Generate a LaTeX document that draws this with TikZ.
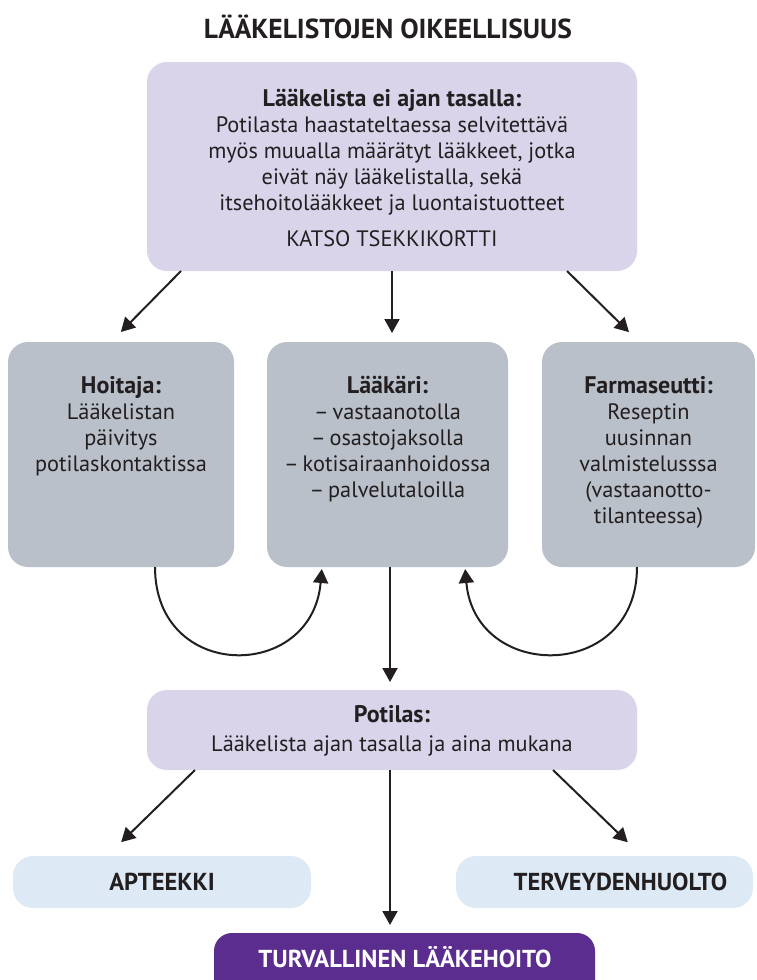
\documentclass[tikz,border=0pt]{standalone}
\usepackage{fontspec}
\setmainfont{PT Sans}
\usetikzlibrary{arrows.meta}
\definecolor{lav}{RGB}{217,212,233}
\definecolor{grayb}{RGB}{185,192,201}
\definecolor{lblue}{RGB}{221,234,246}
\definecolor{purp}{RGB}{91,45,142}
\definecolor{ink}{RGB}{35,31,32}
\newcommand\myhd{\fontsize{24}{26}\selectfont\bfseries}
\begin{document}
\begin{tikzpicture}[x=1pt,y=-1pt,
  box/.style={rectangle, rounded corners=20pt, inner sep=0pt, outer sep=0pt},
  txt/.style={align=center, inner sep=0pt, outer sep=0pt, text=ink, font=\fontsize{22.3}{26}\selectfont},
  lbl/.style={inner sep=0pt, outer sep=0pt, text=ink, font=\fontsize{24.5}{26}\selectfont\bfseries},
  arr/.style={draw=ink, line width=2pt, -{Triangle[length=14pt,width=15pt]}},
]
\useasboundingbox (0,0) rectangle (757,980);
\clip (0,0) rectangle (757,980);
% title
\node[txt, anchor=base, font=\fontsize{27.5}{30}\selectfont\bfseries] (title) at (388,38) {LÄÄKELISTOJEN OIKEELLISUUS};
% boxes
\node[box, fill=lav, minimum width=490pt, minimum height=209pt] (top) at (392,166.5) {};
\node[box, fill=grayb, minimum width=226pt, minimum height=225pt] (hoit) at (121,454.5) {};
\node[box, fill=grayb, minimum width=241pt, minimum height=225pt] (laak) at (387.5,454.5) {};
\node[box, fill=grayb, minimum width=213pt, minimum height=225pt] (farm) at (648.5,454.5) {};
\node[box, fill=lav, minimum width=490pt, minimum height=80pt] (pot) at (392,730) {};
\node[box, fill=lblue, minimum width=298pt, minimum height=52pt] (apt) at (162,882) {};
\node[box, fill=lblue, minimum width=297pt, minimum height=52pt] (terv) at (604.5,882) {};
\node[box, fill=purp, rounded corners=18pt, minimum width=381pt, minimum height=80pt] (turv) at (404.5,973) {};
% texts
\node[txt, anchor=north] (toptxt) at ([yshift=-27pt]top.north) {{\myhd Lääkelista ei ajan tasalla:}\\[0pt]
Potilasta haastateltaessa selvitettävä\\
myös muualla määrätyt lääkkeet, jotka\\
eivät näy lääkelistalla, sekä\\
itsehoitolääkkeet ja luontaistuotteet\\[10pt]
KATSO TSEKKIKORTTI};
\node[txt, anchor=north] (hoittxt) at ([yshift=-34pt]hoit.north) {{\myhd Hoitaja:}\\Lääkelistan\\päivitys\\potilaskontaktissa};
\node[txt, anchor=north] (laaktxt) at ([yshift=-34pt]laak.north) {{\myhd Lääkäri:}\\–\,vastaanotolla\\–\,osastojaksolla\\–\,kotisairaanhoidossa\\–\,palvelutaloilla};
\node[txt, anchor=north] (farmtxt) at ([yshift=-34pt]farm.north) {{\myhd Farmaseutti:}\\Reseptin\\uusinnan\\valmistelusssa\\(vastaanotto-\\tilanteessa)};
\node[txt, anchor=north] (pottxt) at ([yshift=-15pt]pot.north) {{\myhd Potilas:}\\[3pt]Lääkelista ajan tasalla ja aina mukana};
\node[lbl] (apttxt) at (apt.center) {APTEEKKI};
\node[lbl] (tervtxt) at ([xshift=16pt]terv.center) {TERVEYDENHUOLTO};
\node[lbl, text=white, anchor=base] (turvtxt) at (405,967) {TURVALLINEN LÄÄKEHOITO};
% arrows from top box
\draw[arr, shorten >=14pt] ([xshift=-211pt]top.south) -- ([xshift=-10pt]hoit.north);
\draw[arr, shorten >=9pt] (top.south) -- (top.south |- laak.north);
\draw[arr, shorten >=14pt] ([xshift=175pt]top.south) -- ([xshift=-9.5pt]farm.north);
% curved arrows
\draw[arr, shorten >=2pt] ([xshift=34pt]hoit.south) .. controls +(0,115) and +(-10,115) .. ([xshift=-65.5pt]laak.south);
\draw[arr, shorten >=2pt] ([xshift=-11.5pt]farm.south) .. controls +(0,115) and +(10,115) .. ([xshift=77.5pt]laak.south);
% down to patient
\draw[arr, shorten >=8pt] ([xshift=2.5pt]laak.south) -- ([xshift=2.5pt]laak.south |- pot.north);
% from patient
\draw[arr, shorten >=19.8pt] ([xshift=-197pt]pot.south) -- ([xshift=-55pt]apt.north);
\draw[arr, shorten >=19.8pt] ([xshift=161pt]pot.south) -- ([xshift=37.5pt]terv.north);
\draw[arr, shorten >=8pt] ([xshift=-2pt]pot.south) -- ([xshift=-2pt]pot.south |- turv.north);
\end{tikzpicture}
\end{document}
